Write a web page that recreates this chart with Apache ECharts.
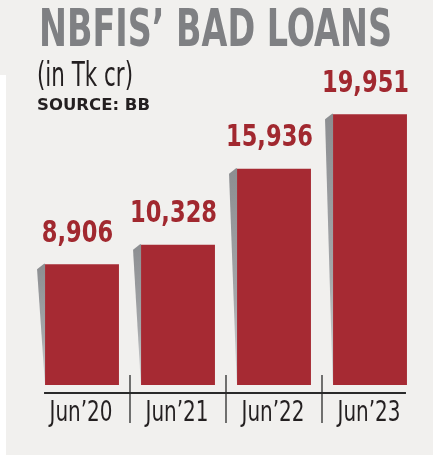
<!DOCTYPE html>
<html>
<head>
<meta charset="utf-8">
<script src="https://cdn.jsdelivr.net/npm/echarts@6/dist/echarts.min.js"></script>
<style>
html,body{margin:0;padding:0;background:#ffffff;}
#c{width:433px;height:459px;}
</style>
</head>
<body>
<div id="c"></div>
<script>
var categories = ["Jun\u201920", "Jun\u201921", "Jun\u201922", "Jun\u201923"];
var values = [8906, 10328, 15936, 19951];
var valueLabels = ["8,906", "10,328", "15,936", "19,951"];
var titleText = "NBFIS\u2019 BAD LOANS";
var unitText = "(in Tk cr)";
var sourceText = "SOURCE: BB";

var NARROW = '"Liberation Sans Narrow","DejaVu Sans Condensed","Roboto Condensed","Open Sans",sans-serif';
var BAR = '#a62a33';

var measureCtx = document.createElement('canvas').getContext('2d');
function fitScale(text, font, targetWidth) {
  measureCtx.font = font;
  return targetWidth / measureCtx.measureText(text).width;
}

var TITLE_FONT = 'bold 52px ' + NARROW;
var UNIT_FONT = '33px ' + NARROW;
var SRC_FONT = 'bold 15px "DejaVu Sans",sans-serif';
var VAL_FONT = 'bold 31px ' + NARROW;
var CAT_FONT = '28px ' + NARROW;
var valScale = fitScale('10,328', VAL_FONT, 87);
var catScale = fitScale(categories[0], CAT_FONT, 63);

var chart = echarts.init(document.getElementById('c'), null, {renderer: 'canvas'});

function decoRender(params, api) {
  var idx = params.dataIndex;
  var v = api.value(1);
  var base = api.coord([idx, 0]);
  var top = api.coord([idx, v]);
  var cw = api.size([1, 0])[0];
  var bw = cw * 0.77;
  var xl = base[0] - bw / 2;
  var children = [];
  children.push({
    type: 'polygon',
    shape: {points: [[xl - 8, top[1] + 5], [xl - 1, top[1] - 0.5], [xl, top[1] - 0.5], [xl, base[1]], [xl - 0.5, base[1] - 6]]},
    style: {fill: new echarts.graphic.LinearGradient(0, 0, 0, 1, [{offset: 0, color: '#8c8e91'}, {offset: 0.6, color: '#a4a6a9'}, {offset: 1, color: '#d8d9da'}])}
  });
  children.push({
    type: 'text',
    x: base[0] - 4.5,
    y: top[1] - 15,
    scaleX: valScale,
    style: {text: valueLabels[idx], font: VAL_FONT, fill: '#a1282f', align: 'center', verticalAlign: 'bottom'}
  });
  children.push({
    type: 'text',
    x: base[0] - 1,
    y: base[1] + 15,
    scaleX: catScale,
    style: {text: categories[idx], font: CAT_FONT, fill: '#231f20', align: 'center', verticalAlign: 'top'}
  });
  if (idx > 0) {
    var sx = base[0] - cw / 2;
    children.push({type: 'line', shape: {x1: sx, y1: base[1] - 10, x2: sx, y2: base[1] + 38}, style: {stroke: '#2a2a2a', lineWidth: 1.3}});
  }
  if (idx === 0) {
    var lastX = api.coord([categories.length - 1, 0])[0];
    children.push({type: 'line', shape: {x1: xl - 1, y1: base[1] + 8, x2: lastX + bw / 2 - 1, y2: base[1] + 8}, style: {stroke: '#2a2a2a', lineWidth: 2}});
  }
  return {type: 'group', children: children};
}

chart.setOption({
  backgroundColor: '#f1f0ee',
  animation: false,
  grid: {left: 34, right: 15, top: 100, height: 285},
  xAxis: {
    type: 'category',
    data: categories,
    axisLine: {show: false},
    axisTick: {show: false},
    axisLabel: {show: false}
  },
  yAxis: {type: 'value', min: 0, max: 21000, show: false, splitLine: {show: false}},
  graphic: [
    {type: 'rect', left: 0, top: 75, shape: {width: 6, height: 384}, style: {fill: '#ffffff'}, z: -1},
    {type: 'rect', left: 0, top: 455, shape: {width: 433, height: 4}, style: {fill: '#ffffff'}, z: -1},
    {type: 'text', x: 39, y: 6, scaleX: fitScale(titleText, TITLE_FONT, 353), style: {text: titleText, fill: '#7f8083', font: TITLE_FONT}},
    {type: 'text', x: 37, y: 61, scaleX: fitScale(unitText, UNIT_FONT, 96), style: {text: unitText, fill: '#231f20', font: UNIT_FONT}},
    {type: 'text', x: 37, y: 99, scaleX: fitScale(sourceText, SRC_FONT, 113), style: {text: sourceText, fill: '#231f20', font: SRC_FONT}}
  ],
  series: [
    {
      type: 'custom',
      renderItem: decoRender,
      data: values.map(function (v, i) { return [i, v]; }),
      z: 1,
      silent: true
    },
    {
      type: 'bar',
      data: values,
      barWidth: '77%',
      itemStyle: {color: BAR},
      z: 2
    }
  ]
});
</script>
</body>
</html>
